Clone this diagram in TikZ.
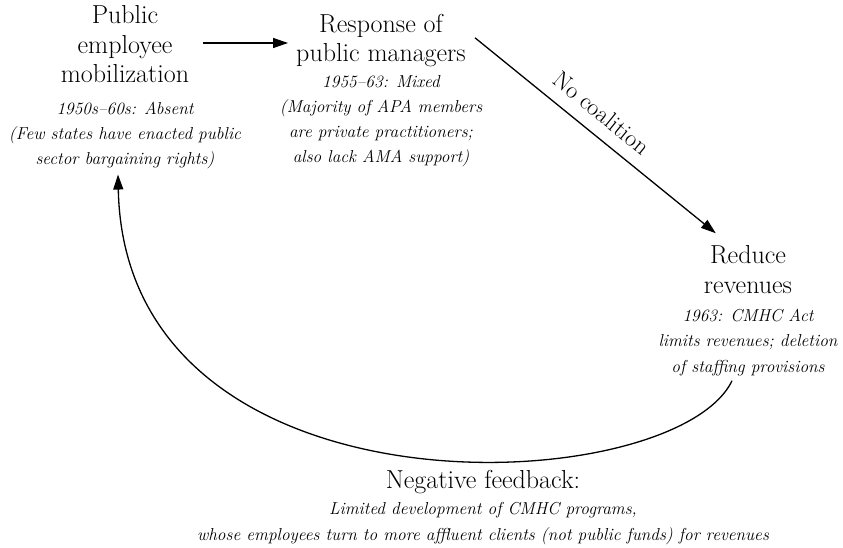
\documentclass[tikz,border=0pt]{standalone}
\usetikzlibrary{arrows.meta,calc}
\begin{document}
\begin{tikzpicture}[x=1pt,y=-1pt,
  title/.style={align=center,inner sep=0pt,font=\fontsize{26}{29.5}\selectfont},
  detail/.style={align=center,inner sep=0pt,font=\fontsize{17.3}{25.3}\selectfont\itshape},
  arr/.style={line width=1.3pt,-{Triangle[length=15pt,width=10pt]}},
  lbl/.style={font=\fontsize{24}{26}\selectfont}]
\useasboundingbox (0,0) rectangle (843,548);
% Public employee mobilization
\node[title,anchor=base] (A) at (125,83) {Public\\employee\\mobilization};
\node[detail,anchor=base] (Ad) at (125,165) {1950s--60s: Absent\\(Few states have enacted public\\sector bargaining rights)};
% Response of public managers
\node[title,anchor=base] (B) at (381,62) {Response of\\public managers};
\node[detail,anchor=base] (Bd) at (381,163) {1955--63: Mixed\\(Majority of APA members\\are private practitioners;\\also lack AMA support)};
% Reduce revenues
\node[title,anchor=base] (C) at (748,293) {Reduce\\revenues};
\node[detail,anchor=base] (Cd) at (748,372) {1963: CMHC Act\\limits revenues; deletion\\of staffing provisions};
% Negative feedback
\node[title,anchor=base] (D) at (483,488) {Negative feedback:};
\node[detail,anchor=base] (Dd) at (483,540) {Limited development of CMHC programs,\\whose employees turn to more affluent clients (not public funds) for revenues};
% connectors
\coordinate (ab) at (0,43);
\draw[arr] ([xshift=14pt]A.east |- ab) -- ([xshift=-8pt]B.west |- ab);
\draw[arr] ([xshift=9pt,yshift=3pt]B.east) -- node[lbl,pos=0.47,sloped,above=9pt] (nc) {No coalition} ([xshift=12pt,yshift=12pt]C.north west);
\draw[arr] ([xshift=-16pt,yshift=-5pt]Cd.south) .. controls (675,500) and (125,528) .. ([xshift=-7pt,yshift=-5pt]Ad.south);
\end{tikzpicture}
\end{document}
